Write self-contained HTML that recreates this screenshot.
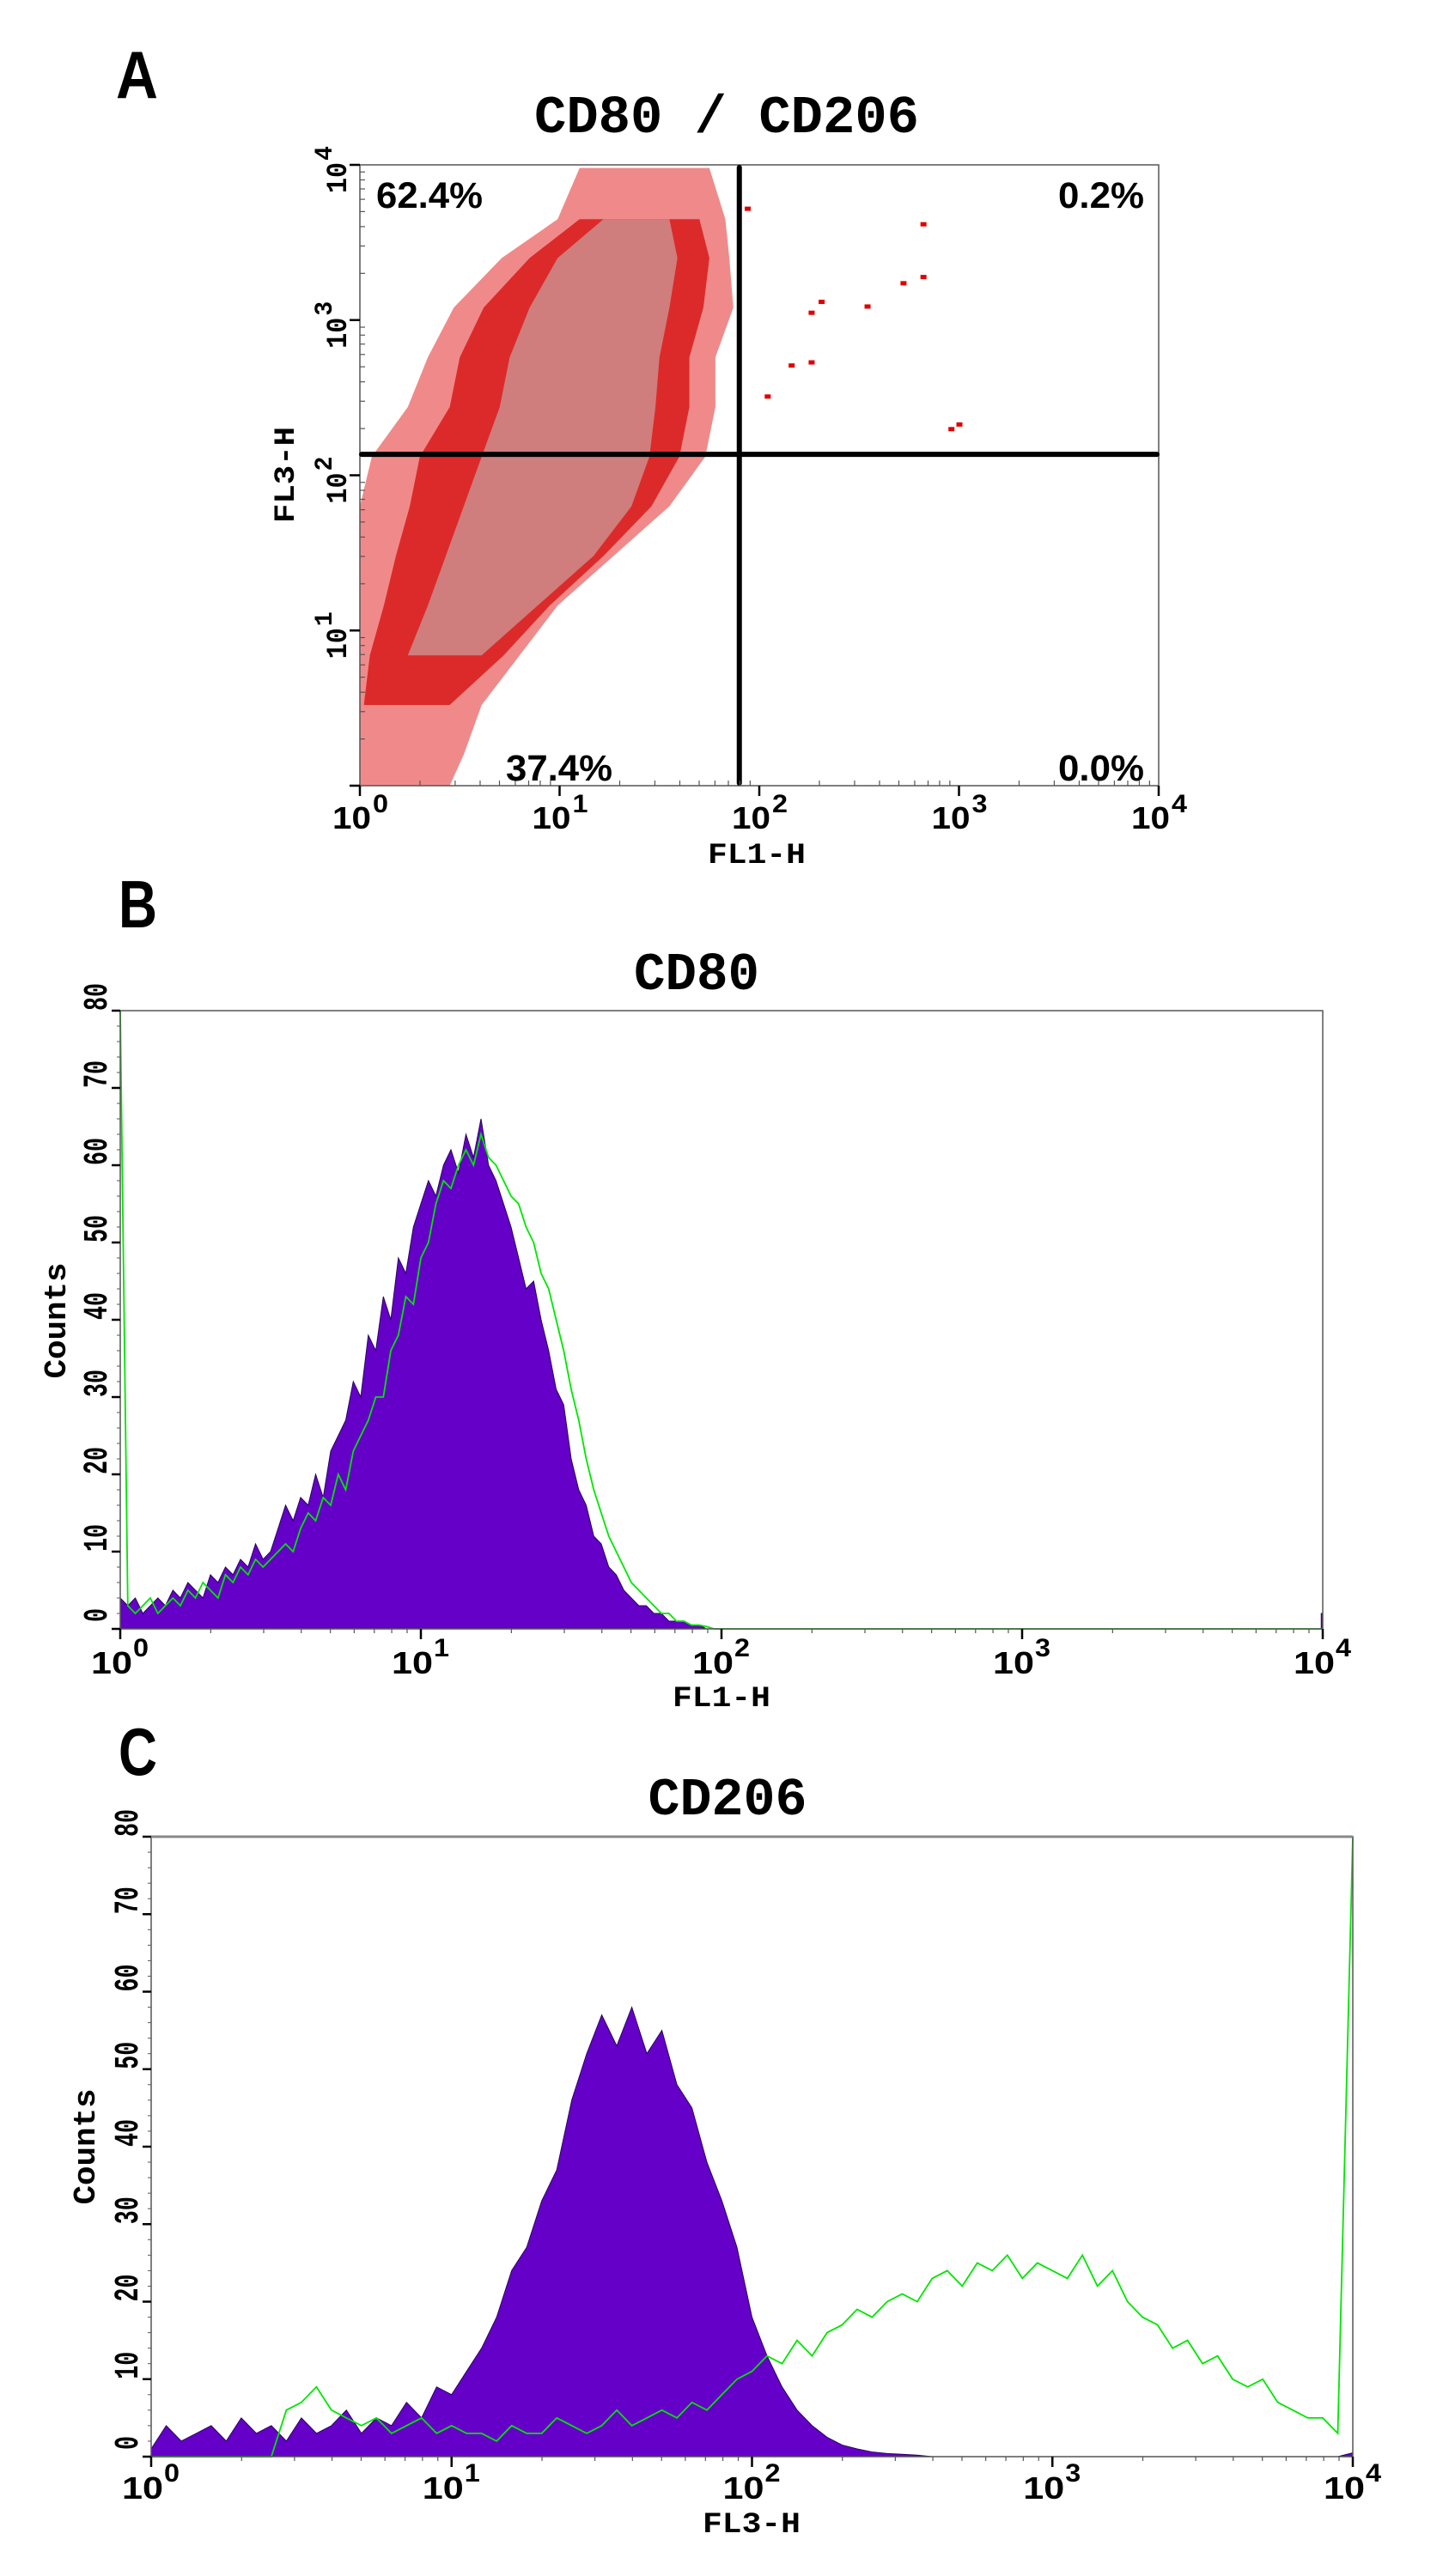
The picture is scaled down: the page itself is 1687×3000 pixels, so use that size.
<!DOCTYPE html>
<html><head><meta charset="utf-8"><style>
html,body{margin:0;padding:0;background:#fff;}
svg{display:block;}
.mono{font-family:"Liberation Mono","DejaVu Sans Mono",monospace;font-weight:bold;}
.sans{font-family:"Liberation Sans","DejaVu Sans",sans-serif;font-weight:bold;}
</style></head><body>
<svg id="fig" xmlns="http://www.w3.org/2000/svg" width="1687" height="3000" viewBox="0 0 1687 3000">
<rect width="1687" height="3000" fill="#fff"/>
<text class="sans" x="135" y="114" font-size="78" textLength="49" lengthAdjust="spacingAndGlyphs">A</text>
<text class="sans" x="138" y="1080" font-size="78" textLength="45" lengthAdjust="spacingAndGlyphs">B</text>
<text class="sans" x="138" y="2067" font-size="78" textLength="45" lengthAdjust="spacingAndGlyphs">C</text>
<text class="mono" x="846" y="154" font-size="62" text-anchor="middle" textLength="448" lengthAdjust="spacingAndGlyphs">CD80 / CD206</text>
<text class="mono" x="811" y="1152" font-size="62" text-anchor="middle" textLength="146" lengthAdjust="spacingAndGlyphs">CD80</text>
<text class="mono" x="847" y="2113" font-size="62" text-anchor="middle" textLength="185" lengthAdjust="spacingAndGlyphs">CD206</text>
<g id="gA"></g>
<g id="gB"></g>
<g id="gC"></g>
</svg>
<script>
// ---------- Panel A data (log10 units) ----------
const rowLogY  = [3.98,3.65,3.40,3.08,2.76,2.44,2.12,1.80,1.48,1.16,0.84,0.52,0.20,0.00];
const redMin   = [1.10,0.99,0.71,0.47,0.34,0.24,0.06,0.00,0.00,0.00,0.00,0.00,0.00,0.00];
const redMax   = [1.75,1.83,1.85,1.87,1.78,1.78,1.73,1.55,1.27,0.99,0.80,0.61,0.52,0.45];
const denseMin = [null,1.10,0.85,0.62,0.50,0.45,0.30,0.25,0.18,0.12,0.05,0.02,null,null];
const denseMax = [null,1.70,1.75,1.72,1.65,1.65,1.60,1.46,1.22,0.95,0.72,0.45,null,null];
const coreMin  = [null,1.22,0.99,0.85,0.75,0.70,0.61,0.52,0.43,0.34,0.24,null,null,null];
const coreMax  = [null,1.55,1.59,1.55,1.50,1.48,1.45,1.36,1.17,0.89,0.61,null,null,null];
const outX = [2.82,2.72,2.82,2.31,2.54,2.26,2.16,2.26,2.96,3.00,2.04,1.94];
const outY = [3.62,3.24,3.28,3.12,3.09,3.05,2.71,2.73,2.30,2.33,2.51,3.72];
const quadX = 1.90, quadY = 2.135;
const quadLabels = ["62.4%","0.2%","37.4%","0.0%"];
const decadeLabels = ["0","1","2","3","4"];

// ---------- Panel B data (step 0.025 log from 0 to 2.0; zero beyond) ----------
const bPurple = [4,3,4,2,3,4,3,5,4,6,5,4,7,6,8,7,9,8,11,9,
 10,13,16,14,17,16,20,17,23,25,27,32,30,38,36,43,40,48,46,52,
 55,58,56,60,62,59,64,61,66,60,58,55,52,48,44,45,40,36,31,29,
 22,18,16,12,11,8,7,5,4,3,3,2,2,1,1,1,0.5,0.5,0,0,0];
const bGreen = [80,3,2,3,4,2,3,4,3,5,4,6,5,4,7,6,8,7,9,8,
 9,10,11,10,13,15,14,17,16,20,18,23,25,27,30,30,36,38,43,42,
 48,50,55,58,57,60,62,60,64,61,60,58,56,55,52,50,46,44,40,36,
 31,27,22,18,15,12,10,8,6,5,4,3,2,2,1,1,0.5,0.5,0.3,0,0];
const bEndPurple = 2, bEndGreen = 0;

// ---------- Panel C data (step 0.05 log from 0 to 4.0) ----------
const cPurple = [1,4,2,3,4,2,5,3,4,2,
 5,3,4,6,3,5,4,7,5,9,
 8,11,14,18,24,27,33,37,46,52,
 57,53,58,52,55,48,45,38,33,27,
 18,13,9,6,4,2.5,1.5,1,0.6,0.4,
 0.3,0.2,0,0,0,0,0,0,0,0,
 0,0,0,0,0,0,0,0,0,0,
 0,0,0,0,0,0,0,0,0,0, 0.5];
const cGreen = [0,0,0,0,0,0,0,0,0,6,
 7,9,6,5,4,5,3,4,5,3,
 4,3,3,2,4,3,3,5,4,3,
 4,6,4,5,6,5,7,6,8,10,
 11,13,12,15,13,16,17,19,18,20,
 21,20,23,24,22,25,24,26,23,25,
 24,23,26,22,24,20,18,17,14,15,
 12,13,10,9,10,7,6,5,5,3, 80];
const countTicks = [0,10,20,30,40,50,60,70,80];

const NS = "http://www.w3.org/2000/svg";
function mk(parent, tag, attrs){const e=document.createElementNS(NS,tag);for(const k in attrs)e.setAttribute(k,attrs[k]);parent.appendChild(e);return e;}

// ===== Panel A =====
(function(){
 const g=document.getElementById('gA');
 const L=419,R=1349,T=192,B=915;
 const sx=v=>L+(R-L)*v/4, sy=v=>B-(B-T)*v/4;
 function layer(mins,maxs,col,name){
  const idx=[];for(let i=0;i<rowLogY.length;i++)if(mins[i]!==null)idx.push(i);
  const left=idx.map(i=>`${sx(mins[i]).toFixed(1)},${sy(rowLogY[i]).toFixed(1)}`);
  const right=idx.slice().reverse().map(i=>`${sx(maxs[i]).toFixed(1)},${sy(rowLogY[i]).toFixed(1)}`);
  const p=mk(g,'polygon',{points:left.concat(right).join(' '),fill:col});
  
  
 }
 layer(redMin,redMax,'#f08a8a','scatter-sparse-region');
 layer(denseMin,denseMax,'#dc2a2a','scatter-dense-region');
 layer(coreMin,coreMax,'#cf7d7d','scatter-core-region');
 for(let i=0;i<outX.length;i++){
  const p=mk(g,'rect',{x:sx(outX[i])-3,y:sy(outY[i])-2,width:7,height:5,fill:'#e00000'});
  
  
 }
 const fr=mk(g,'rect',{x:L,y:T,width:R-L,height:B-T,fill:'none',stroke:'#555','stroke-width':1.5});
 
 
 const vl=mk(g,'line',{x1:sx(quadX),y1:T+3,x2:sx(quadX),y2:B-3,stroke:'#000','stroke-width':6,'stroke-linecap':'round'});
 
 
 const hl=mk(g,'line',{x1:L+2,y1:sy(quadY),x2:R-2,y2:sy(quadY),stroke:'#000','stroke-width':6,'stroke-linecap':'round'});
 
 
 for(let d=0;d<=4;d++){
  let t=mk(g,'line',{x1:sx(d),y1:B,x2:sx(d),y2:B+12,stroke:'#000','stroke-width':2.5});
  
  
  t=mk(g,'line',{x1:L,y1:sy(d),x2:L-12,y2:sy(d),stroke:'#000','stroke-width':2.5});
  
  
  if(d<4)for(let m=2;m<10;m++){
   const lv=d+Math.log10(m);
   let u=mk(g,'line',{x1:sx(lv),y1:B,x2:sx(lv),y2:B-6,stroke:'#555','stroke-width':1.2});
   
   
   u=mk(g,'line',{x1:L,y1:sy(lv),x2:L+6,y2:sy(lv),stroke:'#555','stroke-width':1.2});
   
   
  }
  const tx=mk(g,'text',{x:sx(d)-32,y:965,'font-size':36,class:'sans',textLength:45,lengthAdjust:'spacingAndGlyphs'});
  tx.textContent='10';
  
  
  const sp=mk(g,'text',{x:sx(d)+15,y:946,'font-size':30,class:'sans',textLength:18,lengthAdjust:'spacingAndGlyphs'});
  sp.textContent=decadeLabels[d];
  
  
  if(d>0){
   const ty=sy(d);
   const yt=mk(g,'text',{x:0,y:0,'font-size':34,class:'mono',transform:`translate(403,${ty+33}) rotate(-90)`,textLength:36,lengthAdjust:'spacingAndGlyphs'});
   yt.textContent='10';
   
   
   const ye=mk(g,'text',{x:0,y:0,'font-size':30,class:'mono',transform:`translate(386,${ty-5}) rotate(-90)`,textLength:17,lengthAdjust:'spacingAndGlyphs'});
   ye.textContent=decadeLabels[d];
   
   
  }
 }
 const pos=[[438,242],[1232,242],[589,909],[1232,909]];
 const lens=[124,100,124,100];
 quadLabels.forEach((s,i)=>{
  const t=mk(g,'text',{x:pos[i][0],y:pos[i][1],'font-size':43,class:'sans',textLength:lens[i],lengthAdjust:'spacingAndGlyphs'});
  t.textContent=s;
  
  
 });
 const xl=mk(g,'text',{x:881,y:1005,'font-size':34,class:'mono','text-anchor':'middle',textLength:114,lengthAdjust:'spacingAndGlyphs'});
 xl.textContent='FL1-H';
 
 
 const yl=mk(g,'text',{x:0,y:0,'font-size':34,class:'mono','text-anchor':'middle',transform:'translate(342,553) rotate(-90)',textLength:112,lengthAdjust:'spacingAndGlyphs'});
 yl.textContent='FL3-H';
 
 
})();

// ===== Histograms =====
function hist(gid,L,R,T,B,purple,green,step,endP,endG,xTitle,titleX,titleY,tickBase,countsX,countsY,yLabX,frameTop){
 const g=document.getElementById(gid);
 const sx=v=>L+(R-L)*v/4, sy=v=>B-(B-T)*v/80;
 let d=`M${sx(0)},${sy(0)}`;
 purple.forEach((v,i)=>{d+=` L${sx(i*step).toFixed(1)},${sy(v).toFixed(1)}`;});
 const lastX=(purple.length-1)*step;
 d+=` L${sx(lastX)},${sy(0)}`;
 if(lastX<4){d+=` L${sx(3.995)},${sy(0)} L${sx(3.995)},${sy(endP)} L${sx(4)},${sy(endP)} L${sx(4)},${sy(0)}`;}
 d+=' Z';
 const pf=mk(g,'path',{d:d,fill:'#6400c8',stroke:'#2a0060','stroke-width':1});
 
 
 let pts=green.map((v,i)=>`${sx(i*step).toFixed(1)},${sy(v).toFixed(1)}`);
 const gLast=(green.length-1)*step;
 if(gLast<4){pts.push(`${sx(gLast+step)},${sy(0)}`);pts.push(`${sx(4)},${sy(0)}`);pts.push(`${sx(4)},${sy(endG)}`);}
 const gl=mk(g,'polyline',{points:pts.join(' '),fill:'none',stroke:'#00e600','stroke-width':1.8});
 
 
 const fr=mk(g,'path',{d:`M${L},${B} L${L},${T} L${R},${T} L${R},${B} L${L},${B}`,fill:'none',stroke:'#555','stroke-width':1.5});
 
 
 if(frameTop){const ft=mk(g,'line',{x1:L,y1:T,x2:R,y2:T,stroke:'#888','stroke-width':3});}
 for(let k=0;k<=4;k++){
  let t=mk(g,'line',{x1:sx(k),y1:B,x2:sx(k),y2:B+12,stroke:'#000','stroke-width':2.5});
  
  
  if(k<4)for(let m=2;m<10;m++){
   const lv=k+Math.log10(m);
   const u=mk(g,'line',{x1:sx(lv),y1:B,x2:sx(lv),y2:B+5,stroke:'#555','stroke-width':1.2});
   
   
  }
  const tx=mk(g,'text',{x:sx(k)-34,y:tickBase,'font-size':36,class:'sans',textLength:48,lengthAdjust:'spacingAndGlyphs'});
  tx.textContent='10';
  
  
  const sp=mk(g,'text',{x:sx(k)+15,y:tickBase-20,'font-size':30,class:'sans',textLength:18,lengthAdjust:'spacingAndGlyphs'});
  sp.textContent=decadeLabels[k];
  
  
 }
 countTicks.forEach(c=>{
  const t=mk(g,'line',{x1:L,y1:sy(c),x2:L-10,y2:sy(c),stroke:'#000','stroke-width':2.5});
  
  
  for(let m=1;m<5&&c<80;m++){
   const u=mk(g,'line',{x1:L,y1:sy(c+2*m),x2:L-4,y2:sy(c+2*m),stroke:'#555','stroke-width':1});
   
   
  }
  const yt=mk(g,'text',{x:0,y:0,'font-size':40,class:'mono','text-anchor':'middle',transform:`translate(${yLabX},${sy(c)-16}) rotate(-90)`,textLength:c===0?16:32,lengthAdjust:'spacingAndGlyphs'});
  yt.textContent=String(c);
  
  
 });
 const xl=mk(g,'text',{x:titleX,y:titleY,'font-size':34,class:'mono','text-anchor':'middle',textLength:114,lengthAdjust:'spacingAndGlyphs'});
 xl.textContent=xTitle;
 
 
 const yl=mk(g,'text',{x:0,y:0,'font-size':36,class:'mono','text-anchor':'middle',transform:`translate(${countsX},${countsY}) rotate(-90)`,textLength:135,lengthAdjust:'spacingAndGlyphs'});
 yl.textContent='Counts';
 
 
}
hist('gB',140,1540,1177,1897,bPurple,bGreen,0.025,bEndPurple,bEndGreen,'FL1-H',840,1987,1949,76,1538,124,false);
hist('gC',176,1575,2139,2861,cPurple,cGreen,0.05,0,0,'FL3-H',875,2949,2910,110,2500,160,true);
</script>
</body></html>
